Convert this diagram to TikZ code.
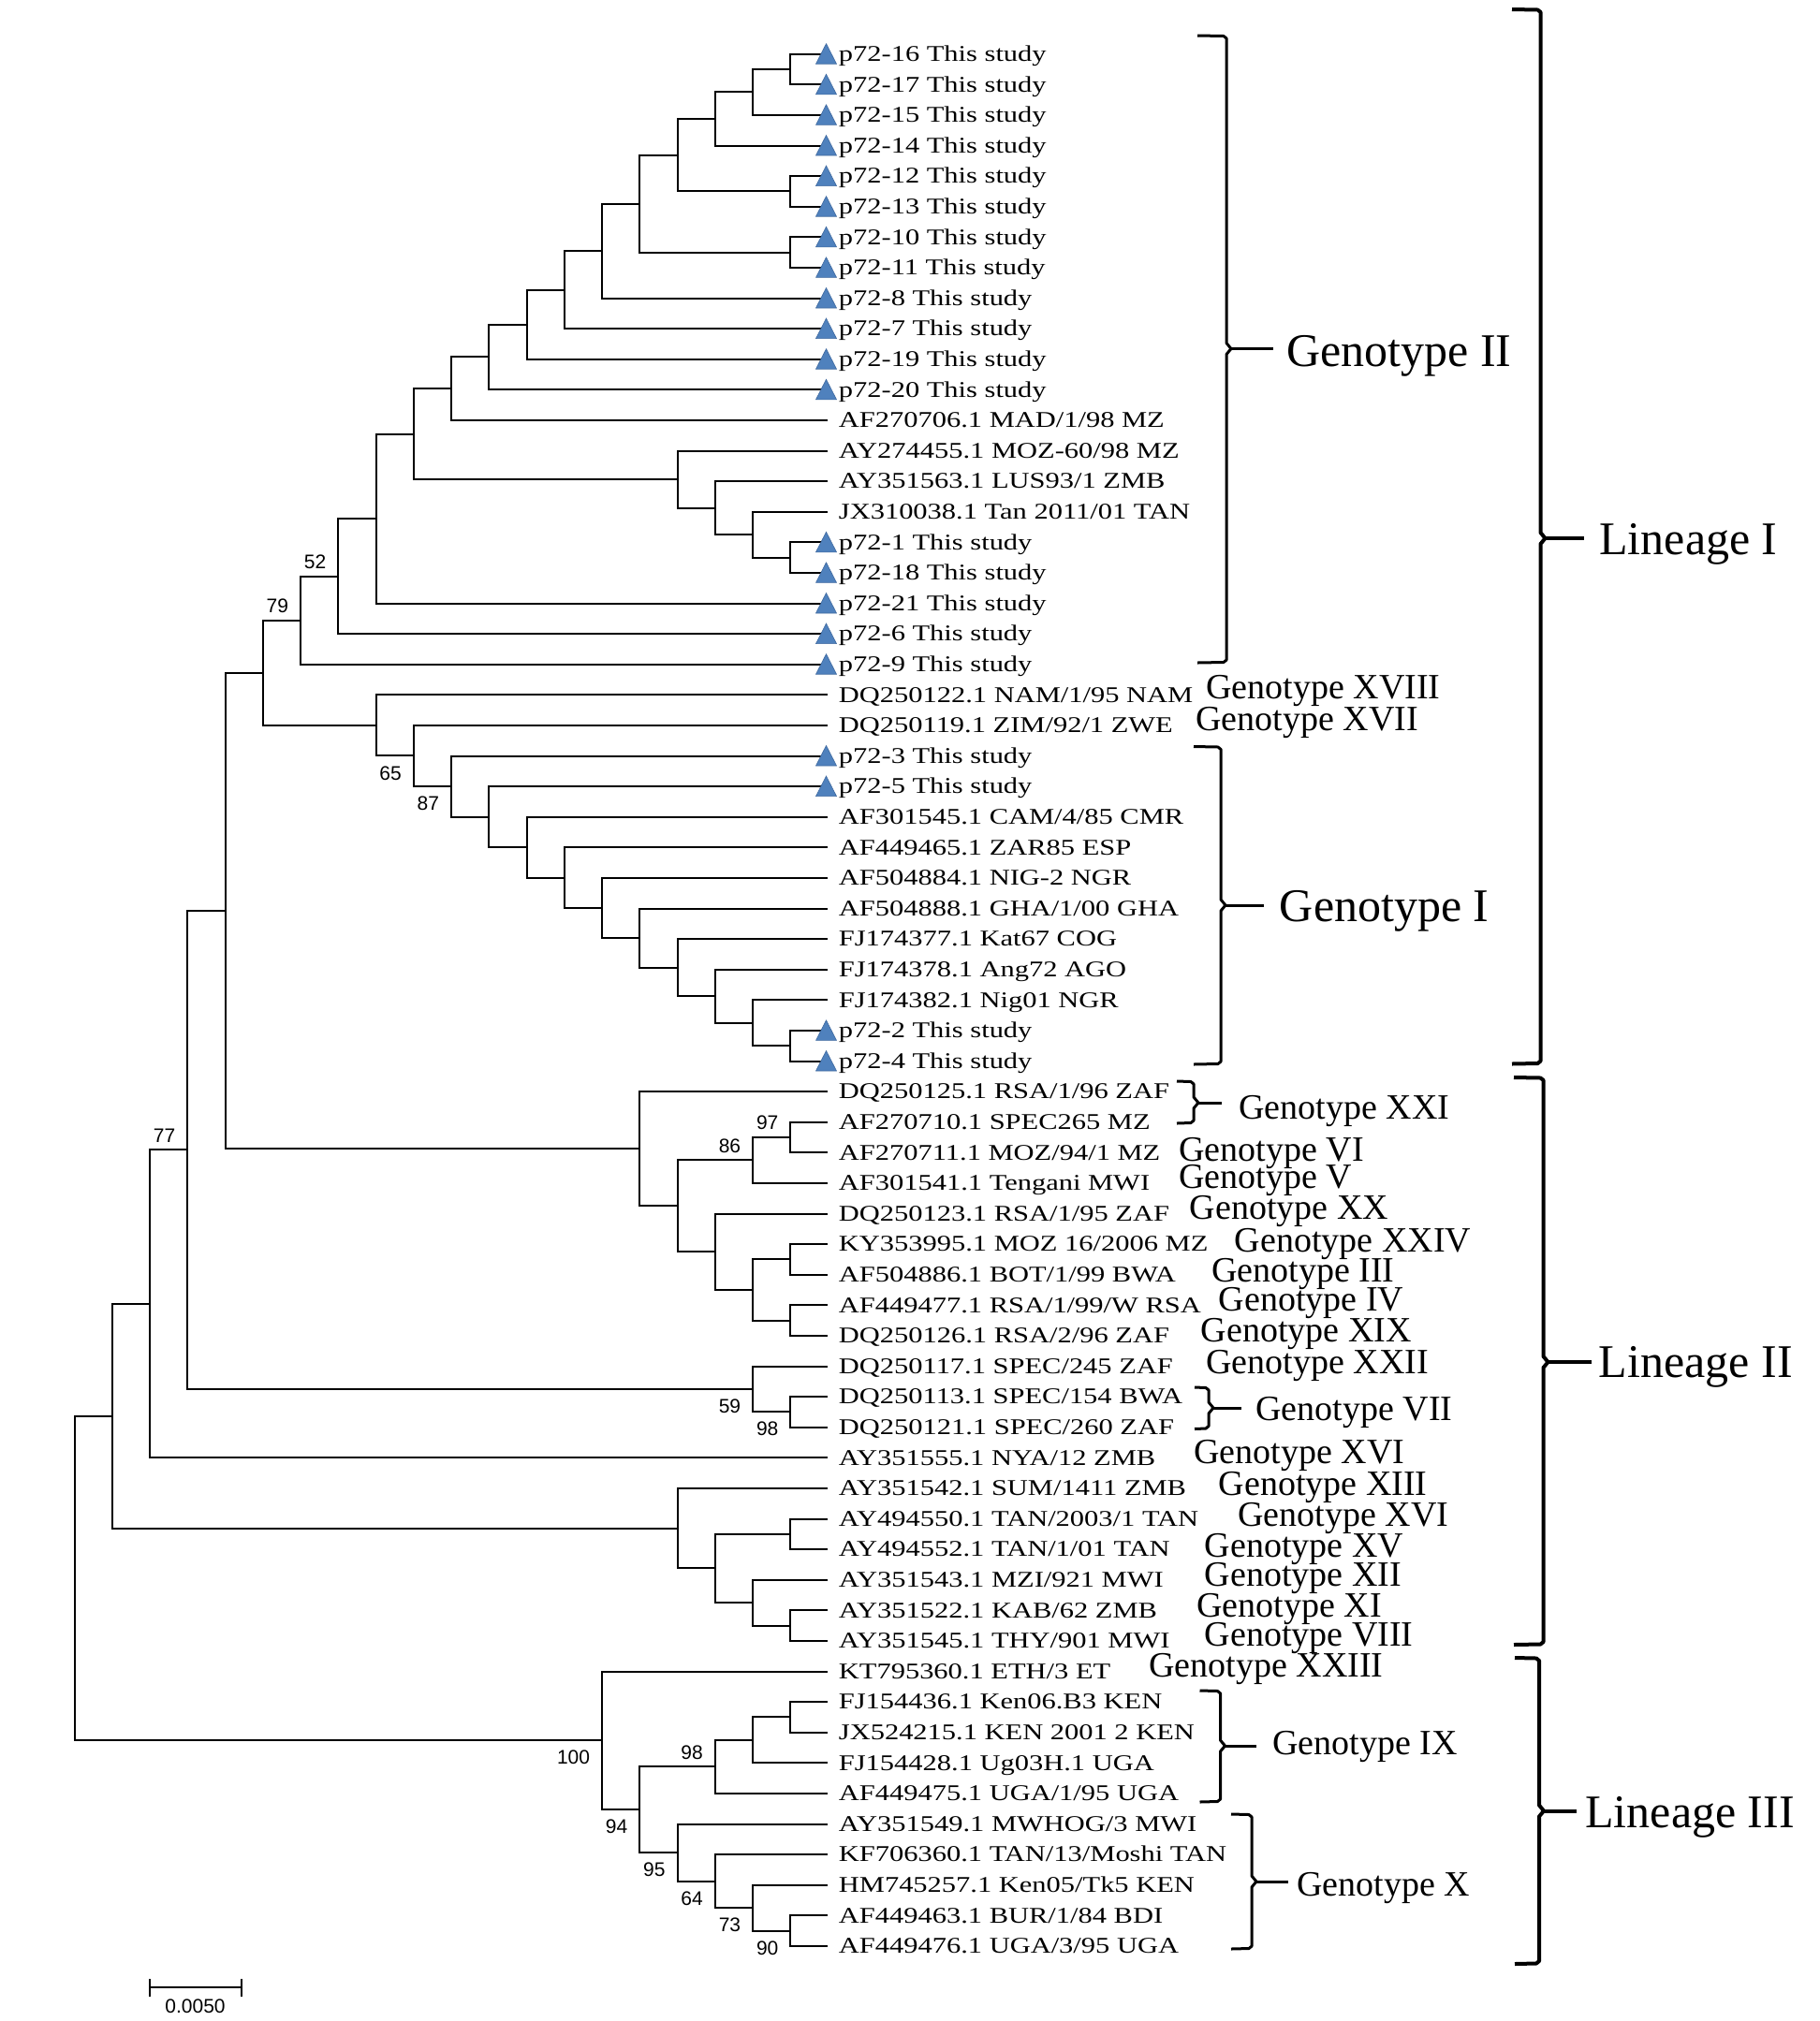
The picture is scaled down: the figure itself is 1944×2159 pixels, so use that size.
\documentclass[tikz,border=0pt]{standalone}
\usepackage{fontspec}
\setmainfont{Liberation Serif}
\newfontfamily\leaffont[FakeStretch=1.27]{Liberation Serif}
\newfontfamily\bsfont{Liberation Sans}
\definecolor{tricol}{RGB}{79,129,189}
\definecolor{triedge}{RGB}{62,104,158}
\newcommand\yy[1]{57.7+32.6*(#1-1)}
\newcommand\leafnode[2]{\coordinate (l#1) at (883,{\yy{#1}}); \node[leaf] (t#1) at (895.5,{\yy{#1}+7.8}) {#2};}
\newcommand\inode[3]{\coordinate (#1) at (#2,{\yy{#3}});}
\newcommand\tri[1]{\filldraw[tri] ([shift={(-0.5,-11)}]l#1) -- ([shift={(-11.5,10.5)}]l#1) -- ([shift={(10.5,10.5)}]l#1) -- cycle;}
\newcommand\brak[8]{%
 \draw[#8] (#6,#3) -- ({#2-3},{#3+0.5}) -- (#2,{#3+3}) -- (#2,{#4-6}) -- ({#2+5},#4) -- (#2,{#4+6}) -- (#2,{#5-3}) -- ({#2-3},{#5-0.5}) -- (#6,#5);
 \coordinate (#1) at ({#2+5},#4);
 \coordinate (#1e) at (#7,#4);
 \draw[#8] (#1) -- (#1e);}
\begin{document}
\begin{tikzpicture}[x=0.5pt,y=-0.5pt,
  br/.style={line width=1pt, line cap=rect, line join=miter},
  leaf/.style={font=\leaffont\fontsize{12pt}{12pt}\selectfont, anchor=base west, inner sep=0pt},
  tri/.style={fill=tricol, draw=triedge, line width=0.3pt},
  bsa/.style={font=\bsfont\fontsize{10.5pt}{10.5pt}\selectfont, anchor=south east, inner sep=0pt, xshift=-6.25pt, yshift=3.75pt},
  bsb/.style={font=\bsfont\fontsize{10.5pt}{10.5pt}\selectfont, anchor=north east, inner sep=0pt, xshift=-6.25pt, yshift=-5.25pt},
  gsmall/.style={font=\fontsize{19pt}{19pt}\selectfont, anchor=base west, inner sep=0pt},
  gbig/.style={font=\fontsize{25pt}{25pt}\selectfont, anchor=base west, inner sep=0pt},
  brc/.style={line width=1.5pt, line join=round, line cap=butt},
  brl/.style={line width=2pt, line join=round, line cap=butt}]
\fill[white] (0,0) rectangle (1944,2159);
\useasboundingbox (0,0) rectangle (1944,2159);

% leaves
\leafnode{1}{p72-16 This study}
\leafnode{2}{p72-17 This study}
\leafnode{3}{p72-15 This study}
\leafnode{4}{p72-14 This study}
\leafnode{5}{p72-12 This study}
\leafnode{6}{p72-13 This study}
\leafnode{7}{p72-10 This study}
\leafnode{8}{p72-11 This study}
\leafnode{9}{p72-8 This study}
\leafnode{10}{p72-7 This study}
\leafnode{11}{p72-19 This study}
\leafnode{12}{p72-20 This study}
\leafnode{13}{AF270706.1 MAD/1/98 MZ}
\leafnode{14}{AY274455.1 MOZ-60/98 MZ}
\leafnode{15}{AY351563.1 LUS93/1 ZMB}
\leafnode{16}{JX310038.1 Tan 2011/01 TAN}
\leafnode{17}{p72-1 This study}
\leafnode{18}{p72-18 This study}
\leafnode{19}{p72-21 This study}
\leafnode{20}{p72-6 This study}
\leafnode{21}{p72-9 This study}
\leafnode{22}{DQ250122.1 NAM/1/95 NAM}
\leafnode{23}{DQ250119.1 ZIM/92/1 ZWE}
\leafnode{24}{p72-3 This study}
\leafnode{25}{p72-5 This study}
\leafnode{26}{AF301545.1 CAM/4/85 CMR}
\leafnode{27}{AF449465.1 ZAR85 ESP}
\leafnode{28}{AF504884.1 NIG-2 NGR}
\leafnode{29}{AF504888.1 GHA/1/00 GHA}
\leafnode{30}{FJ174377.1 Kat67 COG}
\leafnode{31}{FJ174378.1 Ang72 AGO}
\leafnode{32}{FJ174382.1 Nig01 NGR}
\leafnode{33}{p72-2 This study}
\leafnode{34}{p72-4 This study}
\leafnode{35}{DQ250125.1 RSA/1/96 ZAF}
\leafnode{36}{AF270710.1 SPEC265 MZ}
\leafnode{37}{AF270711.1 MOZ/94/1 MZ}
\leafnode{38}{AF301541.1 Tengani MWI}
\leafnode{39}{DQ250123.1 RSA/1/95 ZAF}
\leafnode{40}{KY353995.1 MOZ 16/2006 MZ}
\leafnode{41}{AF504886.1 BOT/1/99 BWA}
\leafnode{42}{AF449477.1 RSA/1/99/W RSA}
\leafnode{43}{DQ250126.1 RSA/2/96 ZAF}
\leafnode{44}{DQ250117.1 SPEC/245 ZAF}
\leafnode{45}{DQ250113.1 SPEC/154 BWA}
\leafnode{46}{DQ250121.1 SPEC/260 ZAF}
\leafnode{47}{AY351555.1 NYA/12 ZMB}
\leafnode{48}{AY351542.1 SUM/1411 ZMB}
\leafnode{49}{AY494550.1 TAN/2003/1 TAN}
\leafnode{50}{AY494552.1 TAN/1/01 TAN}
\leafnode{51}{AY351543.1 MZI/921 MWI}
\leafnode{52}{AY351522.1 KAB/62 ZMB}
\leafnode{53}{AY351545.1 THY/901 MWI}
\leafnode{54}{KT795360.1 ETH/3 ET}
\leafnode{55}{FJ154436.1 Ken06.B3 KEN}
\leafnode{56}{JX524215.1 KEN 2001 2 KEN}
\leafnode{57}{FJ154428.1 Ug03H.1 UGA}
\leafnode{58}{AF449475.1 UGA/1/95 UGA}
\leafnode{59}{AY351549.1 MWHOG/3 MWI}
\leafnode{60}{KF706360.1 TAN/13/Moshi TAN}
\leafnode{61}{HM745257.1 Ken05/Tk5 KEN}
\leafnode{62}{AF449463.1 BUR/1/84 BDI}
\leafnode{63}{AF449476.1 UGA/3/95 UGA}

% internal nodes
\inode{a1}{844.25}{1.5}
\inode{a2}{804}{2.25}
\inode{a3}{763.75}{3.125}
\inode{a4}{844.25}{5.5}
\inode{a5}{723.5}{4.3125}
\inode{a6}{844.25}{7.5}
\inode{a7}{683.25}{5.90625}
\inode{a8}{643}{7.453125}
\inode{a9}{602.75}{8.7265625}
\inode{a10}{562.5}{9.86328}
\inode{a11}{522.25}{10.93164}
\inode{a12}{482}{11.96582}
\inode{b1}{844.25}{17.5}
\inode{b2}{804}{16.75}
\inode{b3}{763.75}{15.875}
\inode{b4}{723.5}{14.9375}
\inode{a13}{441.75}{13.45166}
\inode{a14}{401.5}{16.22583}
\inode{a15}{361.25}{18.11292}
\inode{a16}{321}{19.55646}
\inode{c1}{844.25}{33.5}
\inode{c2}{804}{32.75}
\inode{c3}{763.75}{31.875}
\inode{c4}{723.5}{30.9375}
\inode{c5}{683.25}{29.96875}
\inode{c6}{643}{28.984375}
\inode{c7}{602.75}{27.9921875}
\inode{c8}{562.5}{26.99609}
\inode{c9}{522.25}{25.99805}
\inode{c10}{482}{24.99902}
\inode{c11}{441.75}{23.99951}
\inode{c12}{401.5}{22.99976}
\inode{d1}{280.75}{21.27811}
\inode{e1}{844.25}{36.5}
\inode{e2}{804}{37.25}
\inode{e3}{844.25}{40.5}
\inode{e4}{844.25}{42.5}
\inode{e5}{804}{41.5}
\inode{e6}{763.75}{40.25}
\inode{e7}{723.5}{38.75}
\inode{e8}{683.25}{36.875}
\inode{d2}{240.5}{29.07656}
\inode{f1}{844.25}{45.5}
\inode{f2}{804}{44.75}
\inode{d3}{200.25}{36.91328}
\inode{d4}{160}{41.95664}
\inode{g1}{844.25}{49.5}
\inode{g2}{844.25}{52.5}
\inode{g3}{804}{51.75}
\inode{g4}{763.75}{50.625}
\inode{g5}{723.5}{49.3125}
\inode{d5}{119.75}{45.63457}
\inode{h1}{844.25}{55.5}
\inode{h2}{804}{56.25}
\inode{h3}{763.75}{57.125}
\inode{i1}{844.25}{62.5}
\inode{i2}{804}{61.75}
\inode{i3}{763.75}{60.875}
\inode{i4}{723.5}{59.9375}
\inode{h4}{683.25}{58.53125}
\inode{h5}{643}{56.26563}
\inode{root}{79.5}{50.9501}

% branches
\foreach \p/\c in {a1/l1,a1/l2,a2/a1,a2/l3,a3/a2,a3/l4,a4/l5,a4/l6,a5/a3,a5/a4,a6/l7,a6/l8,a7/a5,a7/a6,a8/a7,a8/l9,a9/a8,a9/l10,a10/a9,a10/l11,a11/a10,a11/l12,a12/a11,a12/l13,
  b1/l17,b1/l18,b2/l16,b2/b1,b3/l15,b3/b2,b4/l14,b4/b3,a13/a12,a13/b4,a14/a13,a14/l19,a15/a14,a15/l20,a16/a15,a16/l21,
  c1/l33,c1/l34,c2/l32,c2/c1,c3/l31,c3/c2,c4/l30,c4/c3,c5/l29,c5/c4,c6/l28,c6/c5,c7/l27,c7/c6,c8/l26,c8/c7,c9/l25,c9/c8,c10/l24,c10/c9,c11/l23,c11/c10,c12/l22,c12/c11,d1/a16,d1/c12,
  e1/l36,e1/l37,e2/e1,e2/l38,e3/l40,e3/l41,e4/l42,e4/l43,e5/e3,e5/e4,e6/l39,e6/e5,e7/e2,e7/e6,e8/l35,e8/e7,d2/d1,d2/e8,
  f1/l45,f1/l46,f2/l44,f2/f1,d3/d2,d3/f2,d4/d3,d4/l47,
  g1/l49,g1/l50,g2/l52,g2/l53,g3/l51,g3/g2,g4/g1,g4/g3,g5/l48,g5/g4,d5/d4,d5/g5,
  h1/l55,h1/l56,h2/h1,h2/l57,h3/h2,h3/l58,i1/l62,i1/l63,i2/l61,i2/i1,i3/l60,i3/i2,i4/l59,i4/i3,h4/h3,h4/i4,h5/l54,h5/h4,root/d5,root/h5}
  {\draw[br] (\p) |- (\c);}

% triangles
\foreach \k in {1,2,3,4,5,6,7,8,9,10,11,12,17,18,19,20,21,24,25,33,34} {\tri{\k}}

% bootstrap values
\node[bsa] (bs52) at (a15) {52};
\node[bsa] (bs79) at (a16) {79};
\node[bsb] (bs65) at (c11) {65};
\node[bsb] (bs87) at (c10) {87};
\node[bsa] (bs77) at (d3) {77};
\node[bsa] (bs97) at (e1) {97};
\node[bsa] (bs86) at (e2) {86};
\node[bsb] (bs59) at (f2) {59};
\node[bsb] (bs98a) at (f1) {98};
\node[bsb] (bs100) at (h5) {100};
\node[bsa] (bs98b) at (h3) {98};
\node[bsb] (bs94) at (h4) {94};
\node[bsb] (bs95) at (i4) {95};
\node[bsb] (bs64) at (i3) {64};
\node[bsb] (bs73) at (i2) {73};
\node[bsb] (bs90) at (i1) {90};

% inline genotype labels
\node[gsmall] (gXVIII) at (1288,{\yy{22}+4}) {Genotype XVIII};
\node[gsmall] (gXVII) at (1277,{\yy{23}+6}) {Genotype XVII};
\node[gsmall] (gVI) at (1259,{\yy{37}+9.5}) {Genotype VI};
\node[gsmall] (gV) at (1259,{\yy{38}+5.5}) {Genotype V};
\node[gsmall] (gXX) at (1270.5,{\yy{39}+5.5}) {Genotype XX};
\node[gsmall] (gXXIV) at (1318.5,{\yy{40}+8}) {Genotype XXIV};
\node[gsmall] (gIII) at (1294,{\yy{41}+7.5}) {Genotype III};
\node[gsmall] (gIV) at (1301.5,{\yy{42}+6.5}) {Genotype IV};
\node[gsmall] (gXIX) at (1282.5,{\yy{43}+6.5}) {Genotype XIX};
\node[gsmall] (gXXII) at (1288,{\yy{44}+7.5}) {Genotype XXII};
\node[gsmall] (gXVIa) at (1275,{\yy{47}+6.5}) {Genotype XVI};
\node[gsmall] (gXIII) at (1301.5,{\yy{48}+7.5}) {Genotype XIII};
\node[gsmall] (gXVIb) at (1322,{\yy{49}+8}) {Genotype XVI};
\node[gsmall] (gXV) at (1286.5,{\yy{50}+8}) {Genotype XV};
\node[gsmall] (gXII) at (1286.5,{\yy{51}+7}) {Genotype XII};
\node[gsmall] (gXI) at (1278,{\yy{52}+7}) {Genotype XI};
\node[gsmall] (gVIII) at (1286.5,{\yy{53}+6}) {Genotype VIII};
\node[gsmall] (gXXIII) at (1227,{\yy{54}+6}) {Genotype XXIII};

% brackets
\brak{kGII}{1310}{38}{372.5}{708}{1279}{1359.5}{brc}
\brak{kGI}{1304}{797.5}{967}{1137}{1275}{1350}{brc}
\brak{kLI}{1645.5}{10}{575}{1136.5}{1615}{1692}{brl}
\brak{kGXXI}{1275}{1155}{1178}{1200}{1257}{1304.5}{brc}
\brak{kGVII}{1291}{1482}{1504}{1526.5}{1276}{1326}{brc}
\brak{kGIX}{1303.5}{1806}{1865}{1925}{1281.5}{1341.5}{brc}
\brak{kGX}{1337}{1938}{2010}{2082}{1315}{1376}{brc}
\brak{kLII}{1648.5}{1151}{1455}{1757}{1617}{1700}{brl}
\brak{kLIII}{1644}{1771}{1934.5}{2098}{1618}{1684}{brl}

\node[gbig] (labGII) at (1374,391) {Genotype II};
\node[gbig] (labGI) at (1366.5,984.5) {Genotype I};
\node[gbig] (labLI) at (1708,592) {Lineage I};
\node[gbig] (labLII) at (1707.5,1471.5) {Lineage II};
\node[gbig] (labLIII) at (1693,1952) {Lineage III};
\node[gsmall] (labGXXI) at (1323,1195) {Genotype XXI};
\node[gsmall] (labGVII) at (1341,1517.5) {Genotype VII};
\node[gsmall] (labGIX) at (1359,1874) {Genotype IX};
\node[gsmall] (labGX) at (1385,2025.5) {Genotype X};

% scale bar
\coordinate (sbA) at (160,2123);
\coordinate (sbB) at (257.5,2123);
\draw[br] (sbA) -- (sbB);
\draw[br] ([yshift=4pt]sbA) -- ([yshift=-4.25pt]sbA);
\draw[br] ([yshift=4pt]sbB) -- ([yshift=-4.25pt]sbB);
\node[font=\bsfont\fontsize{10.5pt}{10.5pt}\selectfont, anchor=north, inner sep=0pt] (sbl) at (208.5,2135.5) {0.0050};
\end{tikzpicture}
\end{document}
